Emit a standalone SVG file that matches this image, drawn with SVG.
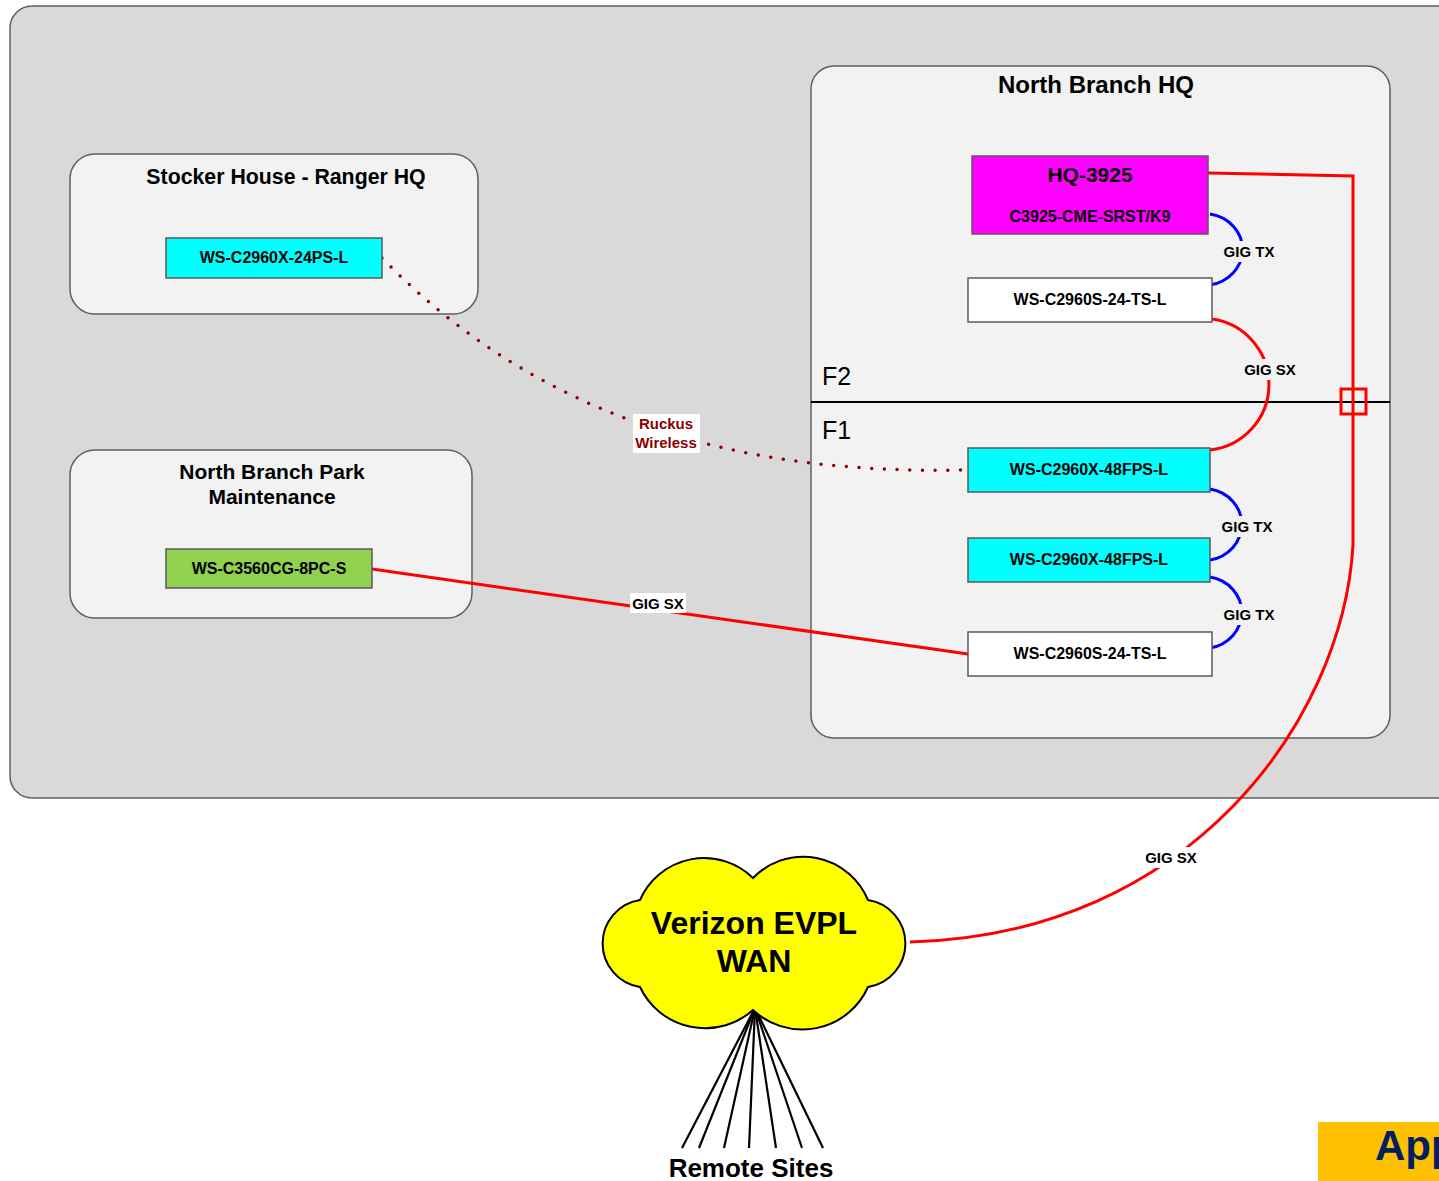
<svg xmlns="http://www.w3.org/2000/svg" width="1439" height="1181" viewBox="0 0 1439 1181">
<style>
.grp{fill:#f2f2f2;stroke:#5f5f5f;stroke-width:1.5}
.nd{stroke:#5a5a5a;stroke-width:1.5}
.t{font-family:"Liberation Sans",Arial,sans-serif;font-weight:bold;fill:#000}
.title{font-size:21px;text-anchor:middle}
.lbl{font-size:16px;text-anchor:middle}
.cl{font-size:15px;text-anchor:middle}
.red{fill:none;stroke:#ff0000;stroke-width:3}
.blue{fill:none;stroke:#0000ff;stroke-width:3}
</style>
<rect width="1439" height="1181" fill="#ffffff"/>
<g id="outer"><rect x="10" y="6" width="1470" height="792" rx="22" fill="#d9d9d9" stroke="#5f5f5f" stroke-width="1.5"/></g>
<g id="stocker-house">
<rect class="grp" x="70" y="154" width="408" height="160" rx="25"/>
<text class="t title" x="286" y="184" style="font-size:21.3px">Stocker House - Ranger HQ</text>
</g>
<g id="nbpm">
<rect class="grp" x="70" y="450" width="402" height="168" rx="25"/>
<text class="t title" x="272" y="479">North Branch Park</text>
<text class="t title" x="272" y="504">Maintenance</text>
</g>
<g id="nbhq">
<rect class="grp" x="811" y="66" width="579" height="672" rx="23"/>
<text class="t title" x="1096" y="93" style="font-size:24px">North Branch HQ</text>
<line x1="811" y1="402" x2="1390" y2="402" stroke="#000" stroke-width="2"/>
<text x="822" y="385" font-family="Liberation Sans, Arial, sans-serif" font-size="25">F2</text>
<text x="822" y="439" font-family="Liberation Sans, Arial, sans-serif" font-size="25">F1</text>
</g>
<g id="connectors">
<path d="M382,258 C540,420 740,475 965,470" fill="none" stroke="#8b0000" stroke-width="3.5" stroke-linecap="round" stroke-dasharray="0 12.7"/>
<path class="red" d="M372,569 L968,654"/>
<path class="red" d="M1208,173 L1353,176 L1353,545 C1343,720 1190,935 910,942"/>
<rect x="1341" y="389" width="25" height="25" fill="none" stroke="#ff0000" stroke-width="3"/>
<path class="red" d="M1212,319 A66 66 0 0 1 1210,450"/>
<path class="blue" d="M1210,214 A39 36 0 0 1 1210,285"/>
<path class="blue" d="M1210,489 A38 36 0 0 1 1210,560"/>
<path class="blue" d="M1210,577 A38 36 0 0 1 1210,648"/>
<rect x="633" y="414" width="67" height="39" fill="#ffffff"/>
<text class="t cl" x="666" y="429" style="fill:#8b0000">Ruckus</text>
<text class="t cl" x="666" y="448" style="fill:#8b0000">Wireless</text>
<rect x="630" y="593" width="56" height="20" fill="#ffffff"/>
<text class="t cl" x="658" y="609">GIG SX</text>
<rect x="1220" y="241" width="58" height="21" fill="#f2f2f2"/>
<text class="t cl" x="1249" y="257">GIG TX</text>
<rect x="1218" y="516" width="58" height="21" fill="#f2f2f2"/>
<text class="t cl" x="1247" y="532">GIG TX</text>
<rect x="1220" y="604" width="58" height="21" fill="#f2f2f2"/>
<text class="t cl" x="1249" y="620">GIG TX</text>
<rect x="1241" y="359" width="58" height="21" fill="#f2f2f2"/>
<text class="t cl" x="1270" y="375">GIG SX</text>
<rect x="1142" y="847" width="58" height="21" fill="#ffffff"/>
<text class="t cl" x="1171" y="863">GIG SX</text>
<g stroke="#000" stroke-width="2.2">
<line x1="755" y1="1008" x2="682" y2="1148"/>
<line x1="755" y1="1008" x2="699" y2="1148"/>
<line x1="755" y1="1008" x2="724" y2="1148"/>
<line x1="755" y1="1008" x2="749" y2="1148"/>
<line x1="755" y1="1008" x2="776" y2="1148"/>
<line x1="755" y1="1008" x2="802" y2="1148"/>
<line x1="755" y1="1008" x2="823" y2="1148"/>
</g>
</g>
<g id="ws-c2960x-24ps-l">
<rect class="nd" x="166" y="238" width="216" height="40" fill="#00ffff"/>
<text class="t lbl" x="274" y="263">WS-C2960X-24PS-L</text>
</g>
<g id="ws-c3560cg-8pc-s">
<rect class="nd" x="166" y="549" width="206" height="39" fill="#92d050"/>
<text class="t lbl" x="269" y="574">WS-C3560CG-8PC-S</text>
</g>
<g id="hq-3925">
<rect class="nd" x="972" y="156" width="236" height="78" fill="#ff00ff"/>
<text class="t" x="1090" y="182" text-anchor="middle" font-size="21">HQ-3925</text>
<text class="t lbl" x="1090" y="222">C3925-CME-SRST/K9</text>
</g>
<g id="ws-c2960s-top">
<rect class="nd" x="968" y="278" width="244" height="44" fill="#ffffff"/>
<text class="t lbl" x="1090" y="305">WS-C2960S-24-TS-L</text>
</g>
<g id="ws-c2960x-48fps-1">
<rect class="nd" x="968" y="448" width="242" height="44" fill="#00ffff"/>
<text class="t lbl" x="1089" y="475">WS-C2960X-48FPS-L</text>
</g>
<g id="ws-c2960x-48fps-2">
<rect class="nd" x="968" y="538" width="242" height="44" fill="#00ffff"/>
<text class="t lbl" x="1089" y="565">WS-C2960X-48FPS-L</text>
</g>
<g id="ws-c2960s-bottom">
<rect class="nd" x="968" y="632" width="244" height="44" fill="#ffffff"/>
<text class="t lbl" x="1090" y="659">WS-C2960S-24-TS-L</text>
</g>
<g id="verizon-wan">
<path d="M640,987 A44 44 0 0 1 640,900 A70 70 0 0 1 753,878 A70 70 0 0 1 868,900 A44 44 0 0 1 868,987 A72 72 0 0 1 753,1010 A72 72 0 0 1 640,987 Z" fill="#ffff00" stroke="#000" stroke-width="2"/>
<text class="t" x="754" y="934" text-anchor="middle" font-size="32">Verizon EVPL</text>
<text class="t" x="754" y="972" text-anchor="middle" font-size="32">WAN</text>
</g>
<g id="remote-sites">
<text class="t" x="751" y="1177" text-anchor="middle" font-size="26">Remote Sites</text>
</g>
<g id="app-label">
<rect x="1318" y="1122" width="140" height="70" fill="#ffc000"/>
<text x="1375" y="1160" font-family="Liberation Sans, Arial, sans-serif" font-weight="bold" font-size="42" fill="#002060">App</text>
</g>
</svg>
